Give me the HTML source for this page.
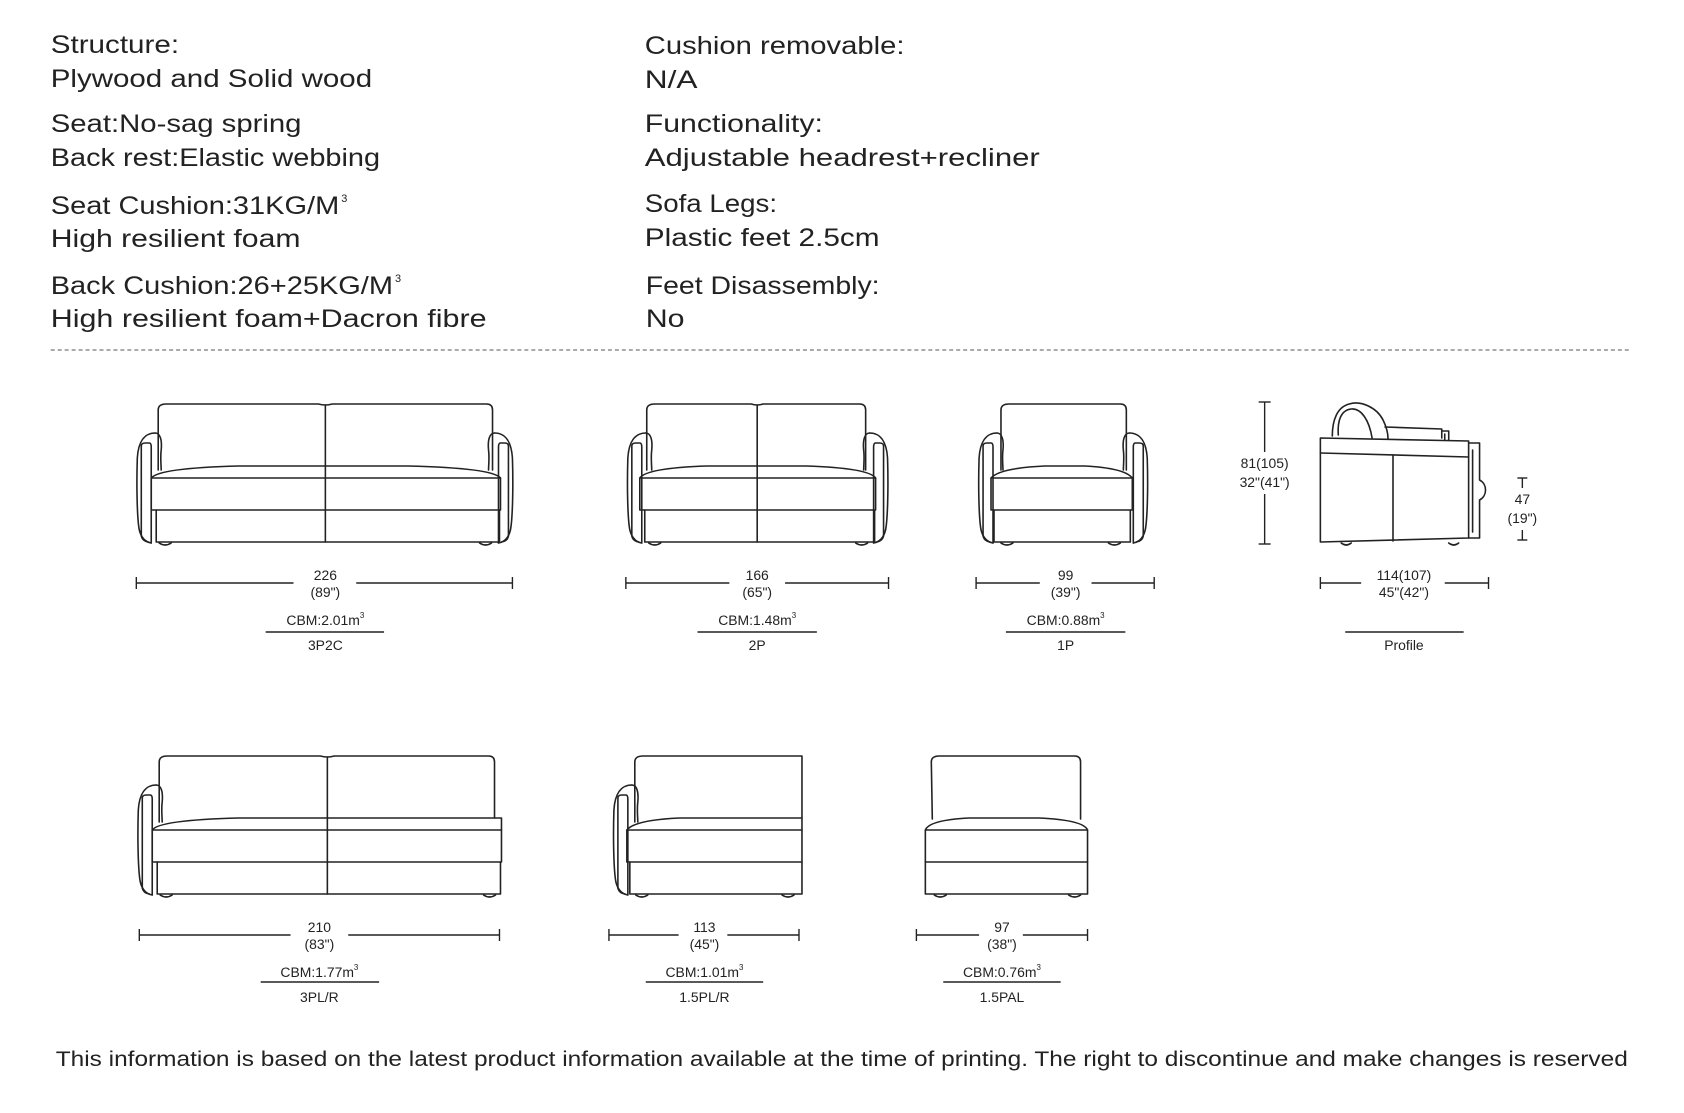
<!DOCTYPE html>
<html><head><meta charset="utf-8"><style>
html,body{margin:0;padding:0;background:#fff;}
svg{display:block;}
text{font-family:"Liberation Sans",sans-serif;fill:#222;}
.big{font-size:25px;}
.sm{font-size:14px;}
.ln{fill:none;stroke:#222;stroke-width:1.6;stroke-linejoin:round;stroke-linecap:round;}
.dl{stroke:#222;stroke-width:1.4;}
</style></head><body>
<svg width="1684" height="1113" viewBox="0 0 1684 1113" xmlns="http://www.w3.org/2000/svg">
<defs>
<g id="arm" class="ln">
<path d="M19,433 C8,433 2,442 1,458 C0,490 1,520 3,530 C5,538 9,542 15,543"/>
<path d="M5,446 L5,536 Q6,541 12,542 M5,446 Q5,443 9,443 L13,443 Q15,443 15,447 L15,543"/>
<path d="M19,433 C24,433 26,440 25,450 C24,458 25,465 25,470"/>
</g>
</defs>
<g transform="scale(0.995,1)">
<g class="big">
<text x="51" y="53" textLength="129" lengthAdjust="spacingAndGlyphs">Structure:</text>
<text x="51" y="87" textLength="323" lengthAdjust="spacingAndGlyphs">Plywood and Solid wood</text>
<text x="51" y="132" textLength="252" lengthAdjust="spacingAndGlyphs">Seat:No-sag spring</text>
<text x="51" y="166" textLength="331" lengthAdjust="spacingAndGlyphs">Back rest:Elastic webbing</text>
<text x="51" y="214" textLength="290" lengthAdjust="spacingAndGlyphs">Seat Cushion:31KG/M</text>
<text x="343" y="202" style="font-size:11px">3</text>
<text x="51" y="247" textLength="251" lengthAdjust="spacingAndGlyphs">High resilient foam</text>
<text x="51" y="294" textLength="344" lengthAdjust="spacingAndGlyphs">Back Cushion:26+25KG/M</text>
<text x="397" y="282" style="font-size:11px">3</text>
<text x="51" y="327" textLength="438" lengthAdjust="spacingAndGlyphs">High resilient foam+Dacron fibre</text>

<text x="648" y="54" textLength="261" lengthAdjust="spacingAndGlyphs">Cushion removable:</text>
<text x="648" y="88" textLength="53" lengthAdjust="spacingAndGlyphs">N/A</text>
<text x="648" y="132" textLength="179" lengthAdjust="spacingAndGlyphs">Functionality:</text>
<text x="648" y="166" textLength="397" lengthAdjust="spacingAndGlyphs">Adjustable headrest+recliner</text>
<text x="648" y="212" textLength="133" lengthAdjust="spacingAndGlyphs">Sofa Legs:</text>
<text x="648" y="246" textLength="236" lengthAdjust="spacingAndGlyphs">Plastic feet 2.5cm</text>
<text x="649" y="294" textLength="235" lengthAdjust="spacingAndGlyphs">Feet Disassembly:</text>
<text x="649" y="327" textLength="39" lengthAdjust="spacingAndGlyphs">No</text>
</g>
<line x1="51" y1="350" x2="1639" y2="350" stroke="#777" stroke-width="1.2" stroke-dasharray="4,3"/>

<g class="ln">
<path d="M159,470 L159,410 Q159,404 167,404 L320,404 Q327,406 334,404 L489,404 Q495,404 495,410 L495,470"/>
<path d="M327,405 L327,542"/>
<path d="M152,478 Q160,468 240,466 L410,466 Q495,468 503,478"/>
<path d="M152,478 L503,478 L503,510 L152,510 Z"/>
<path d="M157,510 L157,542 L502,542 L502,510"/>
<path d="M160,543 Q166,547 172,543 M482,543 Q488,547 494,543"/>
</g>
<use href="#arm" transform="translate(137,0)"/>
<use href="#arm" transform="translate(516,0) scale(-1,1)"/>
<g class="ln">
<path d="M650,470 L650,410 Q650,404 658,404 L755,404 Q761,406 767,404 L864,404 Q870,404 870,410 L870,470"/>
<path d="M761,405 L761,542"/>
<path d="M643,478 Q650,468 710,466 L810,466 Q873,468 880,478"/>
<path d="M643,478 L880,478 L880,510 L643,510 Z"/>
<path d="M648,510 L648,542 L879,542 L879,510"/>
<path d="M652,543 Q658,547 664,543 M860,543 Q866,547 872,543"/>
</g>
<use href="#arm" transform="translate(630,0)"/>
<use href="#arm" transform="translate(893,0) scale(-1,1)"/>
<g class="ln">
<path d="M1006,470 L1006,410 Q1006,404 1014,404 L1126,404 Q1132,404 1132,410 L1132,470"/>
<path d="M996,478 Q1005,468 1050,466 L1090,466 Q1130,468 1138,478"/>
<path d="M996,478 L1138,478 L1138,510 L996,510 Z"/>
<path d="M999,510 L999,542 L1136,542 L1136,510"/>
<path d="M1006,543 Q1012,547 1018,543 M1114,543 Q1120,547 1126,543"/>
</g>
<use href="#arm" transform="translate(983,0)"/>
<use href="#arm" transform="translate(1154,0) scale(-1,1)"/>
<g class="ln" transform="translate(6,0)">
<path d="M1321,438 L1470,441 L1470,538 L1321,542 Z"/>
<path d="M1321,453 L1470,457"/>
<path d="M1394,455 L1394,541"/>
<path d="M1333,436 C1333,420 1338,407 1350,404 C1362,400 1378,408 1384,420 C1388,428 1389,434 1389,439"/>
<path d="M1339,435 C1338,420 1342,410 1352,409 C1362,408 1370,420 1373,438"/>
<path d="M1386,427 L1443,429 L1443,438 M1443,431 L1450,431 L1450,440 M1446,434 L1446,440"/>
<path d="M1470,443 L1481,443 L1481,480 C1489,484 1489,496 1481,500 L1481,538 L1470,538 M1474,450 L1474,532"/>
<path d="M1342,543 Q1347,547 1352,543 M1450,543 Q1455,547 1460,543"/>
</g>
<g class="dl">
<line x1="1271" y1="402" x2="1271" y2="452"/><line x1="1271" y1="494" x2="1271" y2="544"/>
<line x1="1265" y1="402" x2="1277" y2="402"/><line x1="1265" y1="544" x2="1277" y2="544"/>
<line x1="1530" y1="478" x2="1530" y2="488"/><line x1="1530" y1="530" x2="1530" y2="540"/>
<line x1="1525" y1="478" x2="1535" y2="478"/><line x1="1525" y1="540" x2="1535" y2="540"/>
</g>
<text class="sm" x="1271" y="468" text-anchor="middle">81(105)</text>
<text class="sm" x="1271" y="487" text-anchor="middle">32"(41")</text>
<text class="sm" x="1530" y="504" text-anchor="middle">47</text>
<text class="sm" x="1530" y="523" text-anchor="middle">(19")</text>

<g class="dl">
<line x1="137" y1="583" x2="295" y2="583"/><line x1="358" y1="583" x2="515" y2="583"/>
<line x1="137" y1="577" x2="137" y2="589"/><line x1="515" y1="577" x2="515" y2="589"/>
<line x1="267" y1="632" x2="386" y2="632"/>
<line x1="629" y1="583" x2="733" y2="583"/><line x1="789" y1="583" x2="893" y2="583"/>
<line x1="629" y1="577" x2="629" y2="589"/><line x1="893" y1="577" x2="893" y2="589"/>
<line x1="701" y1="632" x2="821" y2="632"/>
<line x1="981" y1="583" x2="1045" y2="583"/><line x1="1097" y1="583" x2="1160" y2="583"/>
<line x1="981" y1="577" x2="981" y2="589"/><line x1="1160" y1="577" x2="1160" y2="589"/>
<line x1="1011" y1="632" x2="1131" y2="632"/>
<line x1="1327" y1="583" x2="1368" y2="583"/><line x1="1452" y1="583" x2="1496" y2="583"/>
<line x1="1327" y1="577" x2="1327" y2="589"/><line x1="1496" y1="577" x2="1496" y2="589"/>
<line x1="1352" y1="632" x2="1471" y2="632"/>
</g>
<g class="sm" text-anchor="middle">
<text x="327" y="580">226</text><text x="327" y="597">(89")</text>
<text x="327" y="625">CBM:2.01m<tspan dy="-7" style="font-size:8px">3</tspan></text><text x="327" y="650">3P2C</text>
<text x="761" y="580">166</text><text x="761" y="597">(65")</text>
<text x="761" y="625">CBM:1.48m<tspan dy="-7" style="font-size:8px">3</tspan></text><text x="761" y="650">2P</text>
<text x="1071" y="580">99</text><text x="1071" y="597">(39")</text>
<text x="1071" y="625">CBM:0.88m<tspan dy="-7" style="font-size:8px">3</tspan></text><text x="1071" y="650">1P</text>
<text x="1411" y="580">114(107)</text><text x="1411" y="597">45"(42")</text>
<text x="1411" y="650">Profile</text>
</g>

<g transform="translate(0,352)">
<g class="ln">
<path d="M160,470 L160,410 Q160,404 168,404 L322,404 Q329,406 336,404 L491,404 Q497,404 497,410 L497,466"/>
<path d="M329,405 L329,542"/>
<path d="M153,478 Q160,468 240,466 L504,466 L504,478"/>
<path d="M153,478 L504,478 L504,510 L153,510 Z"/>
<path d="M158,510 L158,542 L503,542 L503,510"/>
<path d="M161,543 Q167,547 173,543 M486,543 Q492,547 498,543"/>
</g>
<use href="#arm" transform="translate(138,0)"/>
<g transform="translate(3,0)">
<g class="ln">
<path d="M635,470 L635,410 Q635,404 643,404 L803,404 L803,466"/>
<path d="M627,478 Q635,468 680,466 L803,466 L803,478"/>
<path d="M627,478 L803,478 L803,510 L627,510 Z"/>
<path d="M630,510 L630,542 L803,542 L803,510"/>
<path d="M636,543 Q642,547 648,543 M783,543 Q789,547 795,543"/>
</g>
<use href="#arm" transform="translate(613,0)"/>
</g>
<g class="ln" transform="translate(4,0)">
<path d="M933,467 L932,410 Q932,404 940,404 L1076,404 Q1082,404 1082,410 L1082,467"/>
<path d="M926,478 Q930,468 970,466 L1040,466 Q1085,468 1089,478"/>
<path d="M926,478 L1089,478 L1089,510 L926,510 Z"/>
<path d="M926,510 L926,542 L1089,542 L1089,510"/>
<path d="M935,543 Q941,547 947,543 M1070,543 Q1076,547 1082,543"/>
</g>
</g>
<g class="dl">
<line x1="140" y1="935" x2="292" y2="935"/><line x1="350" y1="935" x2="502" y2="935"/>
<line x1="140" y1="929" x2="140" y2="941"/><line x1="502" y1="929" x2="502" y2="941"/>
<line x1="262" y1="982" x2="381" y2="982"/>
<line x1="612" y1="935" x2="682" y2="935"/><line x1="731" y1="935" x2="803" y2="935"/>
<line x1="612" y1="929" x2="612" y2="941"/><line x1="803" y1="929" x2="803" y2="941"/>
<line x1="649" y1="982" x2="767" y2="982"/>
<line x1="921" y1="935" x2="984" y2="935"/><line x1="1028" y1="935" x2="1093" y2="935"/>
<line x1="921" y1="929" x2="921" y2="941"/><line x1="1093" y1="929" x2="1093" y2="941"/>
<line x1="948" y1="982" x2="1066" y2="982"/>
</g>
<g class="sm" text-anchor="middle">
<text x="321" y="932">210</text><text x="321" y="949">(83")</text>
<text x="321" y="977">CBM:1.77m<tspan dy="-7" style="font-size:8px">3</tspan></text><text x="321" y="1002">3PL/R</text>
<text x="708" y="932">113</text><text x="708" y="949">(45")</text>
<text x="708" y="977">CBM:1.01m<tspan dy="-7" style="font-size:8px">3</tspan></text><text x="708" y="1002">1.5PL/R</text>
<text x="1007" y="932">97</text><text x="1007" y="949">(38")</text>
<text x="1007" y="977">CBM:0.76m<tspan dy="-7" style="font-size:8px">3</tspan></text><text x="1007" y="1002">1.5PAL</text>
</g>

<text x="56" y="1066" style="font-size:21px" textLength="1580" lengthAdjust="spacingAndGlyphs">This information is based on the latest product information available at the time of printing. The right to discontinue and make changes is reserved</text>
</g>
</svg>
</body></html>
